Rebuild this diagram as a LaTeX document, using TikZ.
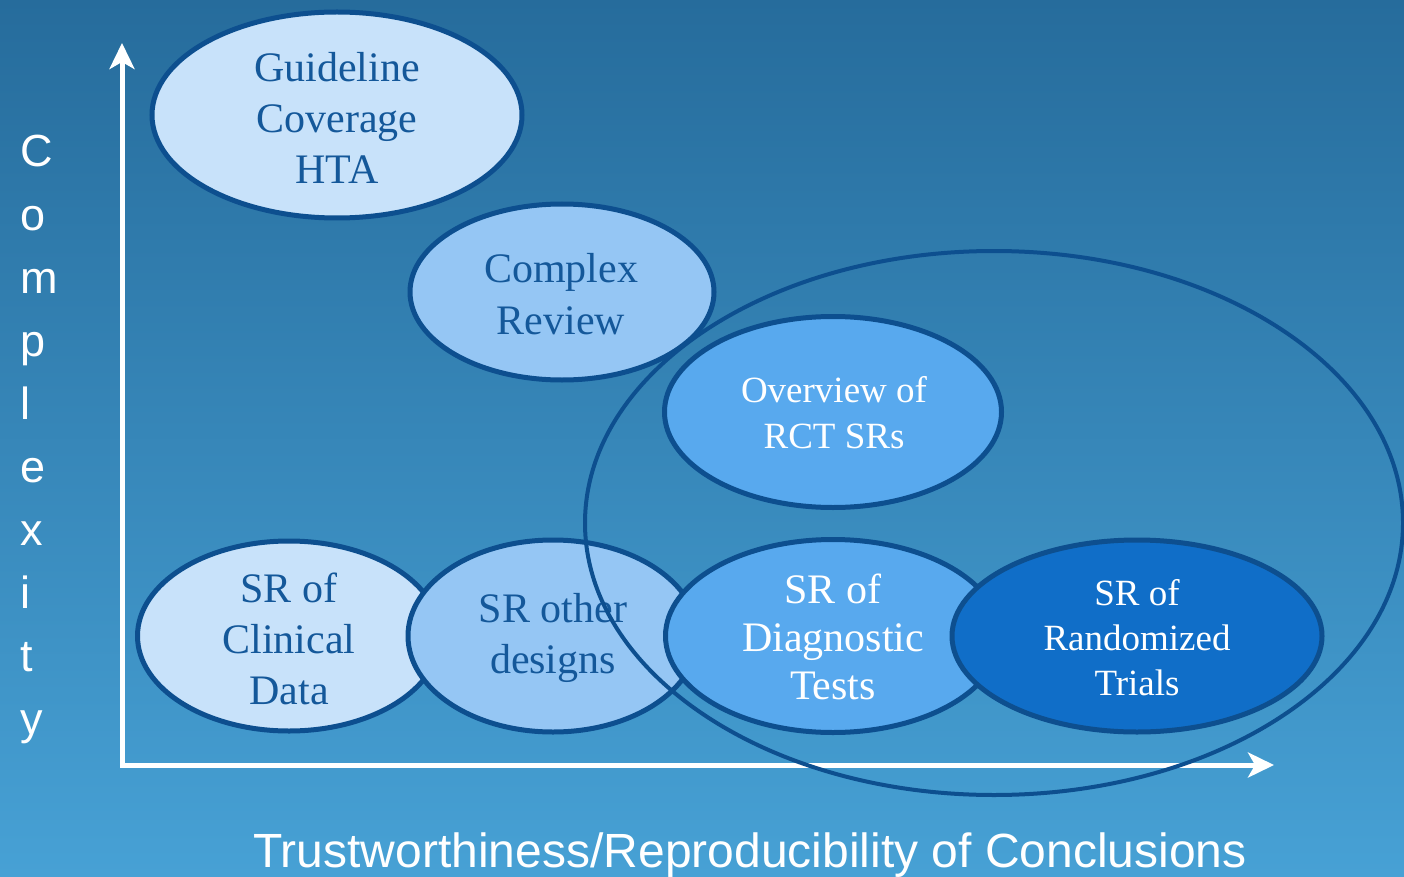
\documentclass[tikz,border=0pt]{standalone}
\usepackage{fontspec}
\setmainfont{Liberation Serif}
\newfontfamily\arialfont{Liberation Sans}
\usetikzlibrary{shapes.geometric,arrows.meta}
\definecolor{bgtop}{RGB}{38,108,156}
\definecolor{bgbot}{RGB}{71,161,213}
\definecolor{edge}{RGB}{13,79,143}
\definecolor{darktext}{RGB}{20,88,154}
\definecolor{fillA}{RGB}{200,226,250}
\definecolor{fillB}{RGB}{149,198,244}
\definecolor{fillC}{RGB}{88,169,238}
\definecolor{fillD}{RGB}{16,110,200}
\tikzset{
  bubble/.style={ellipse, draw=edge, line width=5pt, inner sep=0pt, outer sep=0pt},
  darklbl/.style={text=darktext, align=center, inner sep=0pt},
  whitelbl/.style={text=white, align=center, inner sep=0pt},
  axisline/.style={white, line width=5pt, line join=miter,
    {Stealth[length=26pt,width=25pt,inset=7pt]}-{Stealth[length=26pt,width=25pt,inset=7pt]}},
  vletter/.style={text=white, anchor=base west, inner sep=0pt, font=\arialfont\fontsize{45}{45}\selectfont}
}
\begin{document}
\begin{tikzpicture}[x=1pt,y=-1pt]
\shade[top color=bgtop, bottom color=bgbot] (0,0) rectangle (1404,877);
\useasboundingbox (0,0) rectangle (1404,877);

% axes
\coordinate (ytip) at (122,43);
\coordinate (xtip) at (1274,765);
\draw[axisline] (ytip) |- (xtip);

% Complexity
\foreach \ch [count=\i from 0] in {C,o,m,p,l,e,x,i,t,y}{
  \node[vletter] (c\i) at (20,{167+63.1*\i}) {\ch};
}

% bottom label
\node[text=white, anchor=base, inner sep=0pt, font=\arialfont\fontsize{48}{48}\selectfont] (xlabel) at (750,867) {Trustworthiness/Reproducibility of Conclusions};

% ellipses
\node[bubble, fill=fillA, minimum width=370pt, minimum height=206pt] (e1) at (337,115) {};
\node[bubble, fill=fillB, minimum width=304pt, minimum height=176pt] (e2) at (562,292) {};
\node[bubble, fill=fillC, minimum width=337pt, minimum height=191pt] (e3) at (833,412) {};
\node[bubble, fill=fillA, minimum width=303pt, minimum height=190pt] (e4) at (289,636) {};
\node[bubble, fill=fillB, minimum width=290pt, minimum height=192pt] (e5) at (553,636) {};
\node[darklbl, font=\fontsize{42}{51}\selectfont] (t5) at (553,638) {SR other\\designs};
\node[ellipse, draw=edge, line width=4pt, inner sep=0pt, minimum width=818pt, minimum height=544pt] (big) at (994,523) {};
\node[bubble, fill=fillC, minimum width=335pt, minimum height=193pt] (e6) at (833,636) {};
\node[bubble, fill=fillD, minimum width=370pt, minimum height=192pt] (e7) at (1137,636) {};

% labels
\node[darklbl, font=\fontsize{42}{51}\selectfont] (t1) at (337,118) {Guideline\\Coverage\\HTA};
\node[darklbl, font=\fontsize{42}{52}\selectfont] (t2) at (561,294) {Complex\\Review};
\node[whitelbl, font=\fontsize{37}{46}\selectfont] (t3) at (834,413) {Overview of\\RCT SRs};
\node[darklbl, font=\fontsize{42}{51}\selectfont] (t4) at (289,639) {SR of\\Clinical\\Data};
\node[whitelbl, font=\fontsize{42}{48}\selectfont] (t6) at (833,637) {SR of\\Diagnostic\\Tests};
\node[whitelbl, font=\fontsize{37}{45}\selectfont] (t7) at (1137,638) {SR of\\Randomized\\Trials};
\end{tikzpicture}
\end{document}
